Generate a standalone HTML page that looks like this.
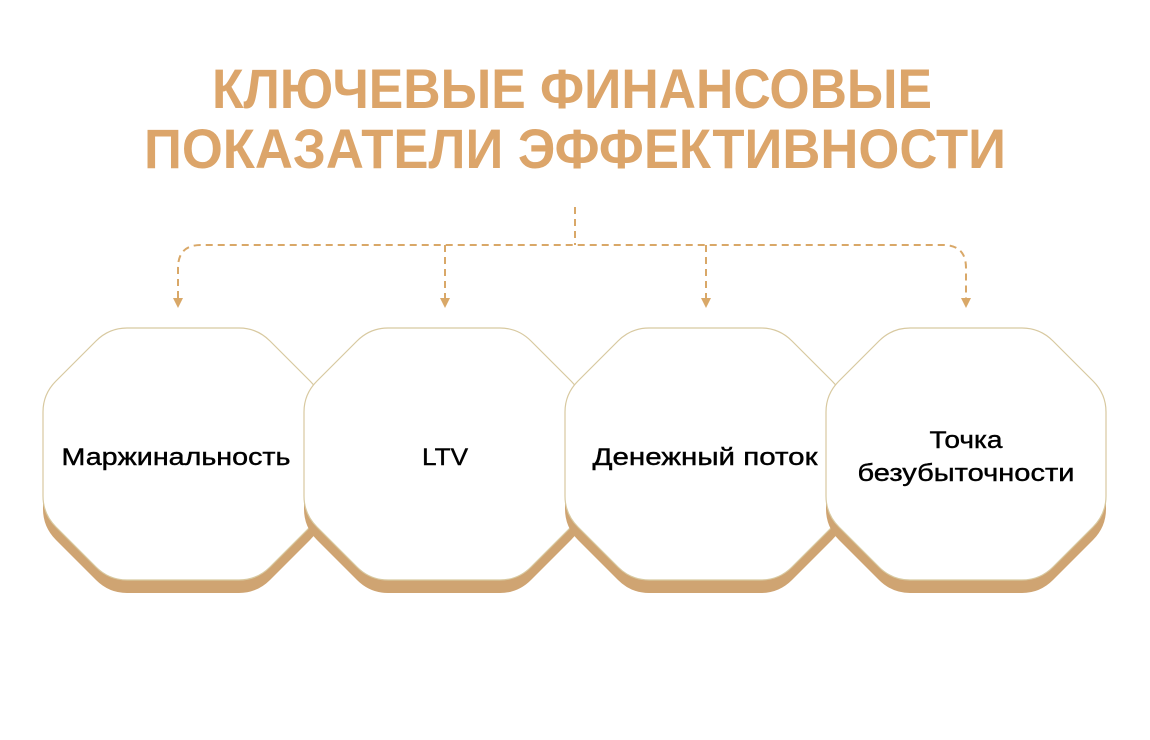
<!DOCTYPE html>
<html><head><meta charset="utf-8"><style>
html,body{margin:0;padding:0;background:#fff;}
svg{display:block;}
</style></head><body>
<svg width="1150" height="740" viewBox="0 0 1150 740" xmlns="http://www.w3.org/2000/svg">
<defs>
<path id="oct" d="M84,0 L196,0 Q214,0 227,13 L267,53 Q280,66 280,84 L280,168 Q280,186 267,199 L227,239 Q214,252 196,252 L84,252 Q66,252 53,239 L13,199 Q0,186 0,168 L0,84 Q0,66 13,53 L53,13 Q66,0 84,0 Z"/>
</defs>
<g font-family="'Liberation Sans', sans-serif" font-weight="bold" fill="#dca56a" font-size="56" text-anchor="middle">
<text x="572" y="108" textLength="720" lengthAdjust="spacingAndGlyphs">КЛЮЧЕВЫЕ ФИНАНСОВЫЕ</text>
<text x="575" y="168" textLength="862" lengthAdjust="spacingAndGlyphs">ПОКАЗАТЕЛИ ЭФФЕКТИВНОСТИ</text>
</g>
<g fill="none" stroke="#d9a868" stroke-width="2" stroke-dasharray="7,5">
<path d="M575,207 L575,245"/>
<path d="M178,298 L178,268 Q178,245 201,245 L943,245 Q966,245 966,268 L966,298"/>
<path d="M445,245 L445,298"/>
<path d="M706,245 L706,298"/>
</g>
<g fill="#d9a868">
<path d="M173,298 L183,298 L178,308 Z"/>
<path d="M440,298 L450,298 L445,308 Z"/>
<path d="M701,298 L711,298 L706,308 Z"/>
<path d="M961,298 L971,298 L966,308 Z"/>
</g>
<g>
<use href="#oct" x="43" y="341" fill="#cfa472"/>
<use href="#oct" x="43" y="328" fill="#fff" stroke="#d8c9a0" stroke-width="1.2"/>
<use href="#oct" x="304" y="341" fill="#cfa472"/>
<use href="#oct" x="304" y="328" fill="#fff" stroke="#d8c9a0" stroke-width="1.2"/>
<use href="#oct" x="565" y="341" fill="#cfa472"/>
<use href="#oct" x="565" y="328" fill="#fff" stroke="#d8c9a0" stroke-width="1.2"/>
<use href="#oct" x="826" y="341" fill="#cfa472"/>
<use href="#oct" x="826" y="328" fill="#fff" stroke="#d8c9a0" stroke-width="1.2"/>
</g>
<g font-family="'Liberation Sans', sans-serif" font-size="24" fill="#000" stroke="#000" stroke-width="0.4" text-anchor="middle">
<text x="176" y="465" textLength="229" lengthAdjust="spacingAndGlyphs">Маржинальность</text>
<text x="445" y="465" textLength="46" lengthAdjust="spacingAndGlyphs">LTV</text>
<text x="705" y="465" textLength="225" lengthAdjust="spacingAndGlyphs">Денежный поток</text>
<text x="966" y="448" textLength="73" lengthAdjust="spacingAndGlyphs">Точка</text>
<text x="966" y="481" textLength="217" lengthAdjust="spacingAndGlyphs">безубыточности</text>
</g>
</svg>
</body></html>
